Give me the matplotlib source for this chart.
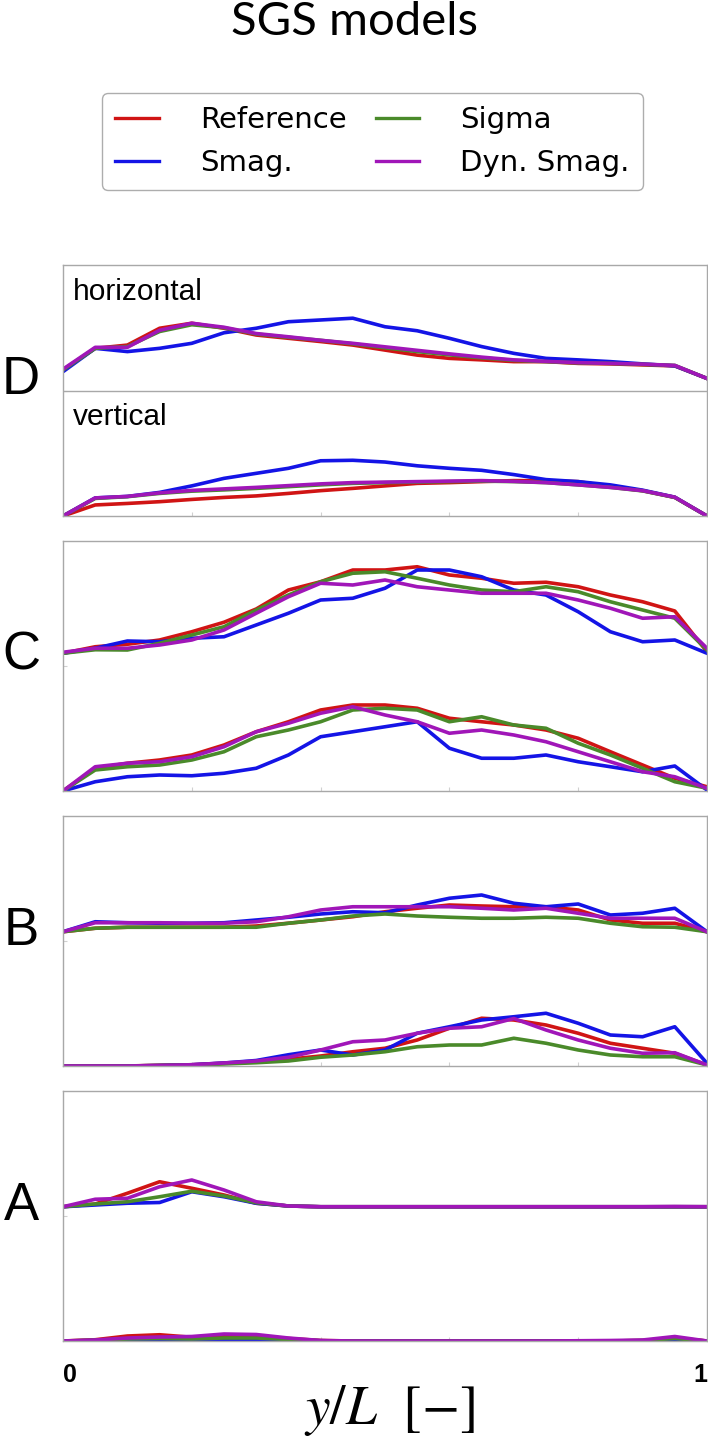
#!/usr/bin/python3
# coding: utf-8

import matplotlib
matplotlib.use("Agg")
import matplotlib.pyplot as plt
import numpy as np

plt.rcParams['font.family'] = ['Liberation Sans', 'DejaVu Sans']
plt.rcParams['mathtext.fontset'] = 'stix'

# positions along the wall, y/L
x = np.linspace(0, 1, 21)

models = ['Reference', 'Smag.', 'Sigma', 'Dyn. Smag.']
colors = ['#d01414', '#1414e6', '#4a8a2a', '#a016b8']
panels = ['D', 'C', 'B', 'A']

# values in panel units (0..1), horizontal profiles sit on the upper half
D_h_ref = [0.582, 0.668, 0.681, 0.748, 0.768, 0.748, 0.721, 0.708, 0.695, 0.681, 0.661,
           0.641, 0.628, 0.622, 0.615, 0.615, 0.608, 0.606, 0.602, 0.598, 0.548]
D_h_smag = [0.575, 0.668, 0.655, 0.668, 0.688, 0.730, 0.748, 0.774, 0.781, 0.788, 0.754,
            0.738, 0.708, 0.675, 0.648, 0.628, 0.622, 0.615, 0.606, 0.598, 0.548]
D_h_sigma = [0.582, 0.668, 0.675, 0.735, 0.762, 0.750, 0.725, 0.712, 0.700, 0.686, 0.670,
             0.655, 0.642, 0.630, 0.620, 0.615, 0.610, 0.608, 0.604, 0.600, 0.548]
D_h_dyn = [0.585, 0.672, 0.672, 0.740, 0.768, 0.752, 0.727, 0.714, 0.700, 0.688, 0.674,
           0.660, 0.646, 0.633, 0.622, 0.616, 0.611, 0.608, 0.605, 0.600, 0.548]

D_v_ref = [0, 0.044, 0.050, 0.057, 0.066, 0.074, 0.080, 0.090, 0.101, 0.110, 0.120,
           0.130, 0.133, 0.137, 0.141, 0.140, 0.137, 0.117, 0.101, 0.074, 0]
D_v_smag = [0, 0.072, 0.078, 0.094, 0.120, 0.150, 0.170, 0.190, 0.220, 0.222, 0.215,
            0.200, 0.190, 0.182, 0.165, 0.145, 0.137, 0.124, 0.103, 0.075, 0]
D_v_sigma = [0, 0.070, 0.077, 0.090, 0.099, 0.104, 0.110, 0.117, 0.124, 0.130, 0.133,
             0.135, 0.137, 0.139, 0.137, 0.133, 0.124, 0.114, 0.100, 0.074, 0]
D_v_dyn = [0, 0.072, 0.078, 0.092, 0.102, 0.108, 0.114, 0.121, 0.128, 0.133, 0.135,
           0.137, 0.139, 0.141, 0.138, 0.133, 0.124, 0.114, 0.101, 0.075, 0]

C_h_ref = [0.551, 0.577, 0.587, 0.604, 0.637, 0.675, 0.728, 0.804, 0.837, 0.884, 0.884,
           0.897, 0.864, 0.851, 0.831, 0.835, 0.817, 0.784, 0.757, 0.720, 0.557]
C_h_smag = [0.551, 0.571, 0.600, 0.597, 0.611, 0.617, 0.664, 0.711, 0.764, 0.771, 0.811,
            0.884, 0.884, 0.857, 0.804, 0.784, 0.717, 0.637, 0.597, 0.604, 0.551]
C_h_sigma = [0.551, 0.565, 0.564, 0.591, 0.624, 0.657, 0.724, 0.784, 0.837, 0.871, 0.877,
             0.851, 0.824, 0.804, 0.797, 0.817, 0.797, 0.757, 0.724, 0.691, 0.564]
C_h_dyn = [0.555, 0.571, 0.571, 0.584, 0.604, 0.644, 0.711, 0.777, 0.831, 0.824, 0.844,
           0.817, 0.804, 0.791, 0.791, 0.791, 0.764, 0.731, 0.691, 0.697, 0.571]

C_v_ref = [0, 0.091, 0.111, 0.124, 0.144, 0.184, 0.237, 0.277, 0.324, 0.344, 0.344,
           0.331, 0.291, 0.277, 0.264, 0.244, 0.211, 0.157, 0.104, 0.051, 0.017]
C_v_smag = [0, 0.037, 0.057, 0.064, 0.061, 0.071, 0.091, 0.144, 0.217, 0.237, 0.257,
            0.277, 0.171, 0.131, 0.131, 0.144, 0.117, 0.097, 0.077, 0.100, 0.004]
C_v_sigma = [0, 0.084, 0.097, 0.104, 0.124, 0.157, 0.217, 0.244, 0.277, 0.324, 0.331,
             0.324, 0.277, 0.297, 0.264, 0.251, 0.191, 0.144, 0.091, 0.037, 0.011]
C_v_dyn = [0, 0.097, 0.111, 0.117, 0.137, 0.177, 0.237, 0.271, 0.311, 0.337, 0.304,
           0.277, 0.231, 0.244, 0.224, 0.197, 0.157, 0.117, 0.077, 0.057, 0.011]

B_h_ref = [0.537, 0.551, 0.555, 0.555, 0.555, 0.555, 0.560, 0.571, 0.584, 0.597, 0.617,
           0.631, 0.644, 0.640, 0.637, 0.637, 0.624, 0.584, 0.571, 0.571, 0.537]
B_h_smag = [0.537, 0.577, 0.573, 0.571, 0.571, 0.573, 0.584, 0.595, 0.608, 0.617, 0.613,
            0.644, 0.671, 0.684, 0.651, 0.637, 0.648, 0.604, 0.611, 0.631, 0.537]
B_h_sigma = [0.537, 0.551, 0.555, 0.555, 0.555, 0.555, 0.555, 0.571, 0.584, 0.600, 0.608,
             0.600, 0.595, 0.591, 0.591, 0.595, 0.591, 0.571, 0.557, 0.555, 0.537]
B_h_dyn = [0.537, 0.573, 0.573, 0.573, 0.571, 0.571, 0.577, 0.597, 0.624, 0.637, 0.637,
           0.637, 0.637, 0.631, 0.624, 0.631, 0.611, 0.591, 0.591, 0.591, 0.537]

B_v_ref = [0, 0, 0, 0.003, 0.005, 0.011, 0.017, 0.027, 0.040, 0.057, 0.071,
           0.104, 0.151, 0.191, 0.184, 0.164, 0.131, 0.091, 0.071, 0.051, 0.004]
B_v_smag = [0, 0, 0, 0.002, 0.005, 0.012, 0.022, 0.045, 0.064, 0.044, 0.064,
            0.131, 0.157, 0.184, 0.197, 0.211, 0.171, 0.124, 0.117, 0.157, 0.011]
B_v_sigma = [0, 0, 0, 0.002, 0.004, 0.008, 0.013, 0.020, 0.035, 0.044, 0.057,
             0.077, 0.084, 0.084, 0.111, 0.091, 0.064, 0.044, 0.037, 0.037, 0.004]
B_v_dyn = [0, 0, 0, 0.002, 0.005, 0.012, 0.020, 0.035, 0.064, 0.097, 0.104,
           0.131, 0.151, 0.157, 0.190, 0.144, 0.104, 0.071, 0.051, 0.053, 0.004]

A_h_ref = [0.537, 0.548, 0.591, 0.637, 0.611, 0.584, 0.551, 0.540, 0.537, 0.537, 0.537,
           0.537, 0.537, 0.537, 0.537, 0.537, 0.537, 0.537, 0.537, 0.537, 0.537]
A_h_smag = [0.537, 0.544, 0.551, 0.554, 0.597, 0.577, 0.551, 0.540, 0.537, 0.537, 0.537,
            0.537, 0.537, 0.537, 0.537, 0.537, 0.537, 0.537, 0.537, 0.537, 0.537]
A_h_sigma = [0.537, 0.548, 0.557, 0.577, 0.599, 0.580, 0.553, 0.540, 0.537, 0.537, 0.537,
             0.537, 0.537, 0.537, 0.537, 0.537, 0.537, 0.537, 0.537, 0.537, 0.537]
A_h_dyn = [0.537, 0.567, 0.571, 0.617, 0.644, 0.604, 0.557, 0.540, 0.537, 0.537, 0.537,
           0.537, 0.537, 0.537, 0.537, 0.537, 0.537, 0.537, 0.537, 0.538, 0.537]

A_v_ref = [0, 0.005, 0.020, 0.025, 0.015, 0.020, 0.020, 0.010, 0.002, 0, 0,
           0, 0, 0, 0, 0, 0, 0, 0.002, 0.012, 0]
A_v_smag = [0, 0.002, 0.004, 0.005, 0.005, 0.006, 0.006, 0.004, 0.001, 0, 0,
            0, 0, 0, 0, 0, 0, 0, 0.001, 0.005, 0]
A_v_sigma = [0, 0.003, 0.008, 0.010, 0.008, 0.012, 0.012, 0.006, 0.001, 0, 0,
             0, 0, 0, 0, 0, 0, 0, 0.002, 0.010, 0]
A_v_dyn = [0, 0.004, 0.012, 0.016, 0.018, 0.028, 0.026, 0.012, 0.002, 0, 0,
           0, 0, 0, 0, 0, 0.001, 0.002, 0.004, 0.018, 0]

curves = {
    'D': ([D_h_ref, D_h_smag, D_h_sigma, D_h_dyn], [D_v_ref, D_v_smag, D_v_sigma, D_v_dyn]),
    'C': ([C_h_ref, C_h_smag, C_h_sigma, C_h_dyn], [C_v_ref, C_v_smag, C_v_sigma, C_v_dyn]),
    'B': ([B_h_ref, B_h_smag, B_h_sigma, B_h_dyn], [B_v_ref, B_v_smag, B_v_sigma, B_v_dyn]),
    'A': ([A_h_ref, A_h_smag, A_h_sigma, A_h_dyn], [A_v_ref, A_v_smag, A_v_sigma, A_v_dyn]),
}

fig = plt.figure(figsize=(7.08, 14.38), dpi=100)

W, H = 708.0, 1438.0
left, right = 63, 707
# top and bottom pixel rows of each panel
boxes = {'D': (265, 516), 'C': (541, 791), 'B': (816, 1066), 'A': (1091, 1341)}
frame_color = '#a8a8a8'

for name in panels:
    top, bottom = boxes[name]
    ax = fig.add_axes([left / W, 1 - bottom / H, (right - left) / W, (bottom - top) / H])
    horiz, vert = curves[name]
    for i in range(4):
        ax.plot(x, vert[i], color=colors[i], lw=2.6, solid_joinstyle='round')
        ax.plot(x, horiz[i], color=colors[i], lw=2.6, solid_joinstyle='round')
    ax.set_xlim(0, 1)
    ax.set_ylim(0, 1)
    for s in ax.spines.values():
        s.set_color(frame_color)
        s.set_linewidth(1.0)
    ax.set_yticks([0.5])
    ax.set_yticklabels([])
    if name == 'A':
        ax.set_xticks([0, 1])
        ax.set_xticklabels(['0', '1'], fontsize=18, fontweight='bold')
        labs = ax.get_xticklabels()
        labs[0].set_ha('left')
        labs[1].set_ha('right')
    else:
        ax.set_xticks([])
    ax.set_xticks([0.2, 0.4, 0.6, 0.8], minor=True)
    ax.tick_params(which='both', direction='in', length=3, color='#d0d0d0', width=0.8)
    ax.tick_params(axis='x', which='major', length=0, pad=16)
    if name == 'D':
        ax.axhline(0.5, color=frame_color, lw=1.0)
        ax.text(0.016, 0.861, 'horizontal', transform=ax.transAxes, fontsize=21.5,
                ha='left', va='baseline')
        ax.text(0.016, 0.363, 'vertical', transform=ax.transAxes, fontsize=21.5,
                ha='left', va='baseline')
    ax.text(-0.065, 0.54, name, transform=ax.transAxes, fontsize=38,
            ha='center', va='center')

fig.text(355 / W, 1 - 35 / H, 'SGS models', fontsize=34, family=['Lato', 'DejaVu Sans'],
         ha='center', va='baseline')

fig.text(390 / W, 1 - 1411 / H, r'$y/L\ \ [-]$', fontsize=40, ha='center', va='center')

handles = [plt.Line2D([], [], color=c, lw=2.4) for c in colors]
fig.legend(handles, models, loc='center', bbox_to_anchor=(372.5 / W, 1 - 141.5 / H),
           ncol=2, prop={'family': 'DejaVu Sans', 'size': 21}, frameon=True,
           edgecolor='#999999', fancybox=True, handlelength=1.5, handletextpad=1.4,
           columnspacing=1.0, labelspacing=0.5, borderpad=0.45)

fig.savefig('out.png', dpi=100)
